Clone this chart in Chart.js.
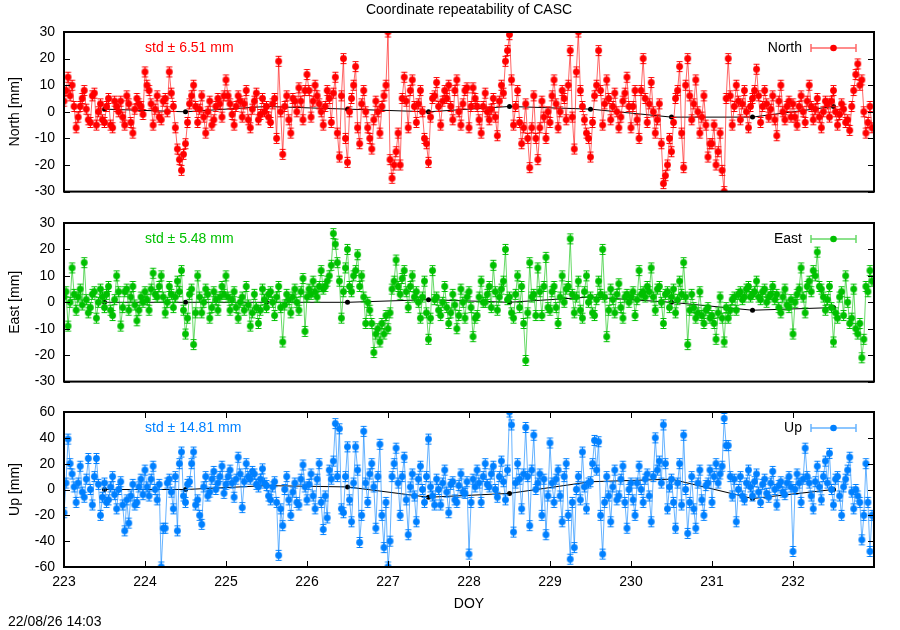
<!DOCTYPE html>
<html>
<head>
<meta charset="utf-8">
<script src="https://cdn.jsdelivr.net/npm/chart.js@4.4.1/dist/chart.umd.min.js"></script>
<style>
  body { margin: 0; background: #fff; width: 900px; height: 630px; position: relative; overflow: hidden; }
  canvas { position: absolute; left: 0; }
</style>
</head>
<body>
<canvas id="north" width="900" height="209" style="top:0px"></canvas>
<canvas id="east" width="900" height="199" style="top:200px"></canvas>
<canvas id="up" width="900" height="240" style="top:390px"></canvas>
<script>
// sampling grid: DOY 223.000 .. 232.975, 40 epochs per day
const firstDoy = 223;
const samplesPerDay = 40;

// one row per day, mm
const north = [
  4, 8, 13, 6, 10, 2, -6, -2, 2, 5, 8, 1, -3, -4, 6, 7, -5, 0, 3, -3, -4, 2, 5, -5, -6, 4, 2, 0, 4, -2, -5, 6, 3, -4, -8, 1, 5, 3, 2, -1,
  15, 10, 8, 3, -5, 1, 6, -2, -3, 4, 5, 0, 15, 7, 2, -6, -14, -18, -22, -16, -12, -4, 3, 6, 10, 2, -4, 1, 6, -2, -8, 0, 4, -5, -3, 2, 5, 3, -2, 6,
  12, 6, 3, -1, -5, 2, 6, 4, -2, 3, 8, -3, -6, 1, 4, 7, -3, -1, 5, 0, 2, -2, -4, 3, 5, -10, 19, 0, -16, 2, 6, -3, -8, 5, 4, 0, 9, 4, -3, 8,
  14, 8, -2, 4, 10, 6, 3, 0, -5, 2, 8, 5, -4, 7, 13, -8, -17, 6, 20, -10, -19, 0, 5, 10, 17, -6, -12, 3, 8, 0, -6, -10, -14, -3, 4, 0, -8, 2, 6, 10,
  30, -18, -25, -20, -15, -8, -20, 5, 13, 4, -6, 8, 12, 2, -4, 3, 8, 0, -10, -12, -19, -2, 5, 6, 11, 2, -5, 4, 8, 5, 10, 2, -3, 8, 12, 0, -5, 3, 8, 9,
  -6, 2, 9, 5, 2, -3, -8, 2, 7, 0, -3, 1, 5, -2, -9, 4, 10, 7, 19, 23, 29, 12, -5, 2, 8, -4, -12, -6, 3, -10, -21, -6, 6, -10, -18, -6, 4, -2, -10, 0,
  -4, 6, 12, 3, -6, 0, 8, 5, -3, 10, 23, -2, -14, 15, 30, 8, 2, -3, -8, -10, -17, -4, 6, 10, 23, 8, -5, 3, 12, 5, -3, 2, 7, 0, -6, -2, 4, 7, 13, 2,
  -6, 2, 8, -3, -10, 8, 20, 5, -4, 3, 11, 0, -8, -3, 3, -12, -27, -24, -20, -10, -15, -4, 5, 8, 17, -8, -21, 10, 20, 6, -3, 3, 12, 0, -8, -2, 6, -5, -17, -12,
  -12, -5, -20, -15, -8, -22, -30, 5, 20, 6, -5, 2, 10, 4, -3, 3, 8, 0, -6, 2, 5, 8, 16, 6, -4, 2, 8, 3, -2, 1, 6, -3, -9, 4, 10, 0, -3, 2, 4, -2,
  3, -2, -5, 2, 6, 0, -4, 4, 10, 2, -3, 1, 5, -2, -6, 0, 4, 3, -2, 4, 8, 0, -5, -1, 3, 1, -4, -3, -7, 2, 8, 14, 18, 10, 12, 0, -8, -4, 2, -6
];

const east = [
  2, 4, -9, 0, 13, 3, -3, 2, 5, -1, 15, 1, -4, -2, 3, 4, -6, 0, 5, 2, -2, 3, 6, -3, -5, 1, 10, 4, -9, -2, 4, 5, -3, 2, 6, -1, -7, -3, 2, 0,
  4, 1, -3, 5, 11, 3, 2, 6, 10, 2, -4, 0, 6, 3, -2, 2, 8, 4, 12, -3, -12, -6, 3, 5, -16, -4, 10, 2, -4, 0, 5, 3, -6, -2, 4, 1, -3, 2, 6, 3,
  10, 2, -3, 1, 4, -2, -6, 0, 2, -3, 6, -1, -9, -4, 3, -2, -8, -3, 5, 1, -2, 3, 4, 0, -5, 2, 6, -2, -15, -1, 3, 1, -4, 2, 5, 0, -3, 4, 9, -11,
  2, 5, 3, 8, 4, 2, 6, 12, 5, 6, 8, 10, 14, 26, 22, 15, 8, -6, 4, 13, 20, 6, 4, 10, 12, 18, 6, 10, 2, -8, 0, -3, -8, -19, -12, -10, -15, -8, -12, -5,
  -10, -4, 5, 8, 16, 6, 3, 9, 12, 4, -2, 6, 10, 2, 4, 0, -6, 2, 8, -4, -14, -6, 12, 1, 2, -3, -5, 0, 6, -2, -8, -4, 3, -1, -10, -5, 5, 0, -6, 2,
  4, -2, -13, -6, -5, 2, 8, 0, 0, 3, 6, -2, 14, 4, -3, 2, 5, 8, 20, 1, 2, -4, -6, 3, 10, -2, 6, -8, -22, -4, 15, 2, 3, -5, 13, 4, -5, 6, 17, -2,
  -3, 4, 6, -2, -8, 2, 10, 0, 5, 6, 24, 3, -4, 2, 8, -3, -6, 4, 10, 0, 2, -4, -5, 1, 8, 3, 20, 2, -13, -3, 5, 1, -4, 3, 7, -2, -6, 2, 3, 0,
  2, 4, -5, 1, 12, 3, 4, 2, 6, 4, 13, 2, -3, 5, 6, 0, -8, 3, 4, -2, 2, 5, -4, 1, 8, 3, 15, 2, -16, -3, 3, -2, -6, -4, 4, -5, -8, -3, -2, -6,
  -5, -8, -14, -4, 2, -6, -15, -2, -6, -3, 1, 2, -3, 3, 4, 1, 2, 5, 6, 2, 3, 4, 8, 2, 1, 4, 5, 0, 2, 3, 6, 1, 3, -2, -4, 2, 5, -1, -2, 1,
  -12, 0, 3, 5, 13, 2, -4, 6, 8, 4, 12, 10, 19, 6, 5, 2, -3, 1, 6, -2, -15, -4, -6, 2, 4, -5, 10, 0, -8, -6, 5, -10, -12, -8, -21, -14, 6, 4, 12, 8
];

const up = [
  -18, 5, 39, 20, 12, 2, -10, 5, 18, -2, -6, 8, 24, 0, -12, 10, 24, 4, -20, -6, 5, -10, -8, 2, 10, -4, -15, 0, 6, -12, -32, -8, -26, -5, 4, -12, -10, 2, 8, -4,
  15, 2, -5, 8, 18, 0, -8, 4, -60, -30, -30, 5, 8, -2, -15, 10, -32, 20, 29, -5, -10, 4, 6, 20, 29, -12, -8, -20, -27, 2, 10, -5, -2, 8, 14, 0, 5, 10, 18, -3,
  4, 10, 15, 5, -6, 8, 25, 12, -14, 6, 20, 10, 8, 14, 12, 4, 2, 8, 16, 5, 3, -5, -8, 2, 6, -10, -51, -15, -28, 0, 10, -8, -20, -2, 5, -10, -12, 8, 19, 2,
  -8, 4, 12, -5, -15, 8, 20, -10, -31, -5, -22, 15, 8, 22, 51, 10, 47, -15, -18, 10, 33, -8, -25, 5, 33, 15, -41, -20, 45, 5, -10, 12, 20, 2, -30, 10, 35, -20, -45, -10,
  -60, -40, 10, 20, 32, 5, -20, 10, 25, -8, -35, 2, 12, -5, -25, 8, 18, 0, -10, 10, 39, 2, -5, -12, 8, 0, -12, 5, 15, -2, -18, 4, 6, -8, -10, 3, 12, -2, -3, 6,
  -50, -10, 8, 2, 15, 5, -10, 10, 20, 4, 2, 12, 18, 0, -6, 10, 22, 6, -8, 15, 60, 50, -33, 5, 20, 8, -15, 12, 48, 10, -28, 15, 42, 0, 5, 12, -20, 8, -35, -5,
  36, 5, -10, 8, 15, -5, -25, 10, 20, -20, -54, -10, -45, 0, 10, -8, 29, 2, -15, 5, 6, 20, 38, 15, 37, -20, -50, -10, 10, -5, -25, 2, 15, -8, -5, 8, 18, -10, -30, 0,
  5, -8, -20, 5, 18, 0, -10, 8, 12, -5, -25, 10, 40, 15, 22, 5, 50, 20, -15, 2, 8, -10, -30, 5, 20, -12, 42, 0, -34, -10, 10, -15, -30, 5, 15, -8, -20, 3, 5, 15,
  -10, 10, 20, 5, 12, 18, 55, 34, 34, 10, -5, 8, -25, 0, 10, -5, -8, 5, 15, 2, -5, 6, 12, -2, -10, 4, 8, -3, -6, 5, 14, 0, -12, 3, 6, -2, -4, 5, 10, 2,
  -48, 0, 12, 5, -10, 8, 32, 10, 5, -5, -15, 6, 18, 2, -8, 10, 22, 5, 28, 0, -12, 8, 10, -5, -20, 2, 8, 15, 25, -2, -15, 0, -5, -10, -39, -20, 20, -10, -48, -20
];

// daily mean solutions (black)
const dailyDoy = [223.5, 224.5, 225.5, 226.5, 227.5, 228.5, 229.5, 230.5, 231.5, 232.5];
const northDaily = [1, 0, 2, 1, 0, 2, 1, -2, -2, 2];
const eastDaily = [0, 0, 0, 0, 1, 0, 2, 0, -3, -2];
const upDaily = [0, 0, 3, 2, -6, -3, 6, 8, -7, 0];

const dayTicks = [223, 224, 225, 226, 227, 228, 229, 230, 231, 232];
const neTicks = [-30, -20, -10, 0, 10, 20, 30];
const upTicks = [-60, -40, -20, 0, 20, 40, 60];

const doy = north.map((_, i) => firstDoy + i / samplesPerDay);

const FONT = '"Liberation Sans", Arial, Helvetica, sans-serif';
Chart.defaults.font.family = FONT;
Chart.defaults.font.size = 14;
Chart.defaults.color = '#000';

// gnuplot-like marker: filled dot with small error bar caps
function errMarker(color) {
  const c = document.createElement('canvas');
  c.width = 9;
  c.height = 13;
  const g = c.getContext('2d');
  g.strokeStyle = color;
  g.fillStyle = color;
  g.lineWidth = 1;
  g.beginPath();
  g.moveTo(4.5, 1); g.lineTo(4.5, 12);
  g.moveTo(1.5, 1.5); g.lineTo(7.5, 1.5);
  g.moveTo(1.5, 11.5); g.lineTo(7.5, 11.5);
  g.stroke();
  g.beginPath();
  g.arc(4.5, 6.5, 3.4, 0, Math.PI * 2);
  g.fill();
  return c;
}

const framePlugin = {
  id: 'frame',
  afterDatasetsDraw(chart, args, opts) {
    const { ctx, chartArea: a, scales } = chart;
    ctx.save();
    ctx.strokeStyle = '#000';
    ctx.lineWidth = 1;
    ctx.beginPath();
    scales.y.ticks.forEach(t => {
      const py = Math.round(scales.y.getPixelForValue(t.value)) + 0.5;
      ctx.moveTo(a.left, py); ctx.lineTo(a.left + 6, py);
      ctx.moveTo(a.right, py); ctx.lineTo(a.right - 6, py);
    });
    if (opts.xTicks) {
      scales.x.ticks.forEach(t => {
        const px = Math.round(scales.x.getPixelForValue(t.value)) + 0.5;
        ctx.moveTo(px, a.bottom); ctx.lineTo(px, a.bottom - 6);
        ctx.moveTo(px, a.top); ctx.lineTo(px, a.top + 6);
      });
    }
    ctx.stroke();
    ctx.lineWidth = 2;
    ctx.strokeRect(a.left, a.top, a.right - a.left, a.bottom - a.top);
    ctx.restore();
  }
};

const keyPlugin = {
  id: 'key',
  afterDraw(chart, args, o) {
    const { ctx, chartArea: a } = chart;
    const y = a.top + 16;
    ctx.save();
    ctx.font = '14px ' + FONT;
    ctx.textBaseline = 'middle';
    ctx.textAlign = 'right';
    ctx.fillStyle = '#000';
    ctx.fillText(o.label, a.right - 72, y);
    const x0 = a.right - 63, x1 = a.right - 18;
    ctx.strokeStyle = o.line;
    ctx.lineWidth = 1.5;
    ctx.beginPath();
    ctx.moveTo(x0, y); ctx.lineTo(x1, y);
    ctx.moveTo(x0, y - 4); ctx.lineTo(x0, y + 4);
    ctx.moveTo(x1, y - 4); ctx.lineTo(x1, y + 4);
    ctx.stroke();
    ctx.fillStyle = o.color;
    ctx.beginPath();
    ctx.arc((x0 + x1) / 2, y, 3.3, 0, Math.PI * 2);
    ctx.fill();
    ctx.textAlign = 'left';
    ctx.fillText(o.std, a.left + 81, a.top + 16);
    if (o.stamp) {
      ctx.fillStyle = '#000';
      ctx.fillText(o.stamp, 8, chart.height - 8);
    }
    ctx.restore();
  }
};

function makePanel(id, p) {
  return new Chart(document.getElementById(id), {
    type: 'line',
    data: {
      datasets: [
        {
          label: p.name,
          data: doy.map((x, i) => ({ x, y: p.values[i] })),
          borderColor: p.line,
          backgroundColor: p.color,
          borderWidth: 1,
          pointStyle: errMarker(p.color),
          pointRadius: 4
        },
        {
          label: 'daily',
          data: dailyDoy.map((x, i) => ({ x, y: p.daily[i] })),
          borderColor: '#000',
          backgroundColor: '#000',
          borderWidth: 1,
          pointRadius: 2.5,
          pointBorderWidth: 0
        }
      ]
    },
    options: {
      responsive: false,
      animation: false,
      devicePixelRatio: 1,
      layout: { padding: p.padding, autoPadding: false },
      plugins: {
        legend: { display: false },
        tooltip: { enabled: false },
        title: p.title || { display: false },
        key: { label: p.name, color: p.color, line: p.line, std: p.std, stamp: p.stamp },
        frame: { xTicks: p.showX }
      },
      scales: {
        x: {
          type: 'linear',
          min: 223,
          max: 233,
          display: p.showX,
          afterBuildTicks: s => { s.ticks = dayTicks.map(v => ({ value: v })); },
          afterFit: s => { s.height = p.showX ? 50 : 0; },
          grid: { display: false, drawTicks: false },
          border: { display: false },
          ticks: { color: '#000', padding: 7, autoSkip: false, maxRotation: 0 },
          title: { display: p.showX, text: 'DOY', color: '#000', padding: { bottom: 4 } }
        },
        y: {
          min: p.min,
          max: p.max,
          afterBuildTicks: s => { s.ticks = p.ticks.map(v => ({ value: v })); },
          afterFit: s => { s.width = 64; },
          grid: { display: false, drawTicks: false },
          border: { display: false },
          ticks: { color: '#000', padding: 9, autoSkip: false },
          title: { display: true, text: p.yTitle, color: '#000', padding: { top: 6.6 } }
        }
      }
    },
    plugins: [framePlugin, keyPlugin]
  });
}

makePanel('north', {
  name: 'North', values: north, daily: northDaily, min: -30, max: 30, ticks: neTicks,
  yTitle: 'North [mm]', std: 'std \u00b1 6.51 mm',
  color: '#ff0000', line: 'rgba(255,0,0,0.6)', showX: false,
  padding: { top: 0, bottom: 0, left: 0, right: 26 },
  title: {
    display: true, fullSize: false, text: 'Coordinate repeatability of CASC',
    color: '#000', font: { size: 14, weight: 'normal' }, padding: { top: 2, bottom: 13.2 }
  }
});

makePanel('east', {
  name: 'East', values: east, daily: eastDaily, min: -30, max: 30, ticks: neTicks,
  yTitle: 'East [mm]', std: 'std \u00b1 5.48 mm',
  color: '#00c000', line: 'rgba(0,192,0,0.6)', showX: false,
  padding: { top: 23, bottom: 0, left: 0, right: 26 }
});

makePanel('up', {
  name: 'Up', values: up, daily: upDaily, min: -60, max: 60, ticks: upTicks,
  yTitle: 'Up [mm]', std: 'std \u00b1 14.81 mm',
  color: '#0080ff', line: 'rgba(0,128,255,0.6)', showX: true,
  stamp: '22/08/26 14:03',
  padding: { top: 22, bottom: 13, left: 0, right: 26 }
});
</script>
</body>
</html>
